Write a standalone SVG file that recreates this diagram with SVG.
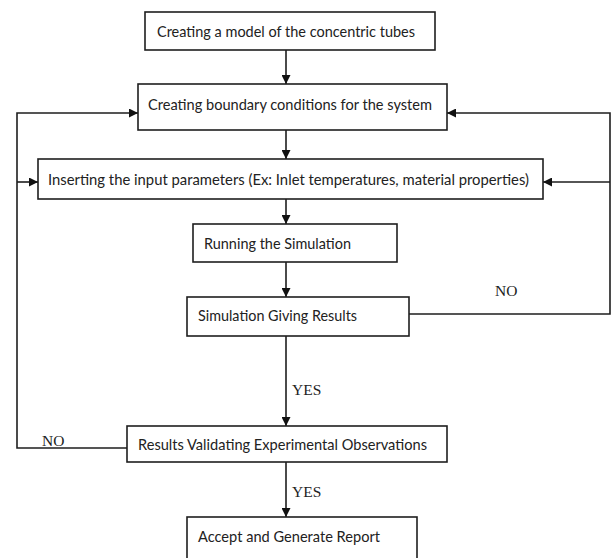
<svg xmlns="http://www.w3.org/2000/svg" width="614" height="558" viewBox="0 0 614 558">
<style>
.box{fill:#fff;stroke:#1e1e1e;stroke-width:1.6}
.t{font-family:Lato,"Open Sans","Liberation Sans",sans-serif;font-size:16px;fill:#222}
.lbl{font-family:"Liberation Serif","Times New Roman",serif;font-size:15.5px;fill:#222}
.c{fill:none;stroke:#1e1e1e;stroke-width:1.6}
</style>
<defs>
<marker id="ah" markerUnits="userSpaceOnUse" markerWidth="9" markerHeight="9" refX="9" refY="4.5" orient="auto">
<path d="M0,0 L9,4.5 L0,9 z" fill="#111"/>
</marker>
</defs>
<rect width="614" height="558" fill="#fff"/>
<g id="connectors">
<line class="c" x1="286" y1="50" x2="286" y2="84" marker-end="url(#ah)"/>
<line class="c" x1="286" y1="130" x2="286" y2="159" marker-end="url(#ah)"/>
<line class="c" x1="286" y1="199" x2="286" y2="224" marker-end="url(#ah)"/>
<line class="c" x1="286" y1="262" x2="286" y2="297" marker-end="url(#ah)"/>
<line class="c" x1="286" y1="336" x2="286" y2="426" marker-end="url(#ah)"/>
<line class="c" x1="286" y1="462" x2="286" y2="517" marker-end="url(#ah)"/>
<path class="c" d="M409,314 H610 V113 H447" marker-end="url(#ah)"/>
<line class="c" x1="610" y1="182" x2="543" y2="182" marker-end="url(#ah)"/>
<path class="c" d="M127,448 H17 V113 H138" marker-end="url(#ah)"/>
<line class="c" x1="17" y1="182" x2="38" y2="182" marker-end="url(#ah)"/>
<text class="lbl" x="495" y="296">NO</text>
<text class="lbl" x="292" y="395">YES</text>
<text class="lbl" x="42" y="446">NO</text>
<text class="lbl" x="292" y="497">YES</text>
</g>
<g id="n1">
<rect class="box" x="145" y="12" width="290" height="38"/>
<text class="t" x="157" y="37" textLength="258" lengthAdjust="spacingAndGlyphs">Creating a model of the concentric tubes</text>
</g>
<g id="n2">
<rect class="box" x="138" y="84" width="309" height="46"/>
<text class="t" x="148" y="110" textLength="284" lengthAdjust="spacingAndGlyphs">Creating boundary conditions for the system</text>
</g>
<g id="n3">
<rect class="box" x="38" y="159" width="505" height="40"/>
<text class="t" x="48" y="185" textLength="481" lengthAdjust="spacingAndGlyphs">Inserting the input parameters (Ex: Inlet temperatures, material properties)</text>
</g>
<g id="n4">
<rect class="box" x="193" y="224" width="204" height="38"/>
<text class="t" x="204" y="249" textLength="147" lengthAdjust="spacingAndGlyphs">Running the Simulation</text>
</g>
<g id="n5">
<rect class="box" x="187" y="297" width="222" height="39"/>
<text class="t" x="198" y="321" textLength="159" lengthAdjust="spacingAndGlyphs">Simulation Giving Results</text>
</g>
<g id="n6">
<rect class="box" x="127" y="426" width="320" height="36"/>
<text class="t" x="138" y="450" textLength="289" lengthAdjust="spacingAndGlyphs">Results Validating Experimental Observations</text>
</g>
<g id="n7">
<rect class="box" x="187" y="517" width="230" height="50"/>
<text class="t" x="198" y="542" textLength="182" lengthAdjust="spacingAndGlyphs">Accept and Generate Report</text>
</g>
</svg>
